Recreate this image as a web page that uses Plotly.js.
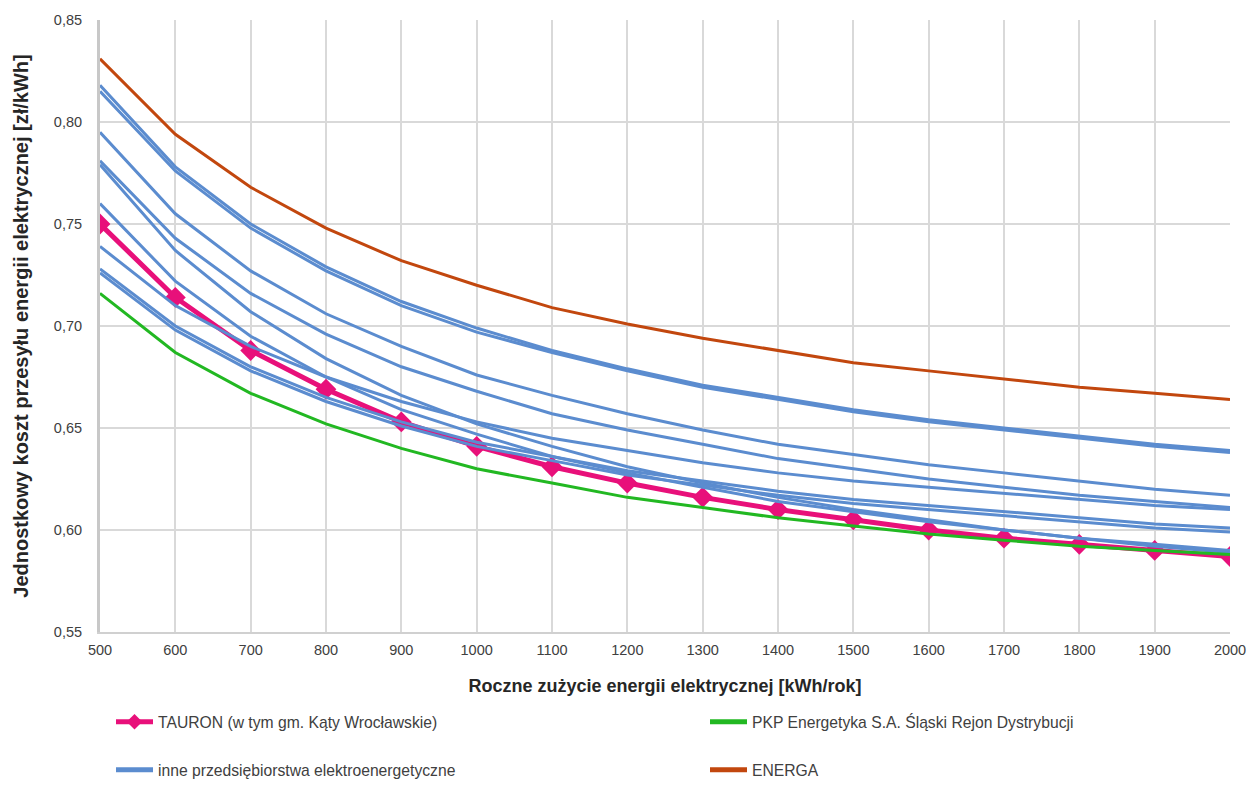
<!DOCTYPE html>
<html>
<head>
<meta charset="utf-8">
<script src="https://cdn.plot.ly/plotly-3.0.1.min.js"></script>
<style>html,body{margin:0;padding:0;background:#fff;}#chart{width:1252px;height:792px;}</style>
</head>
<body>
<div id="chart"></div>
<script>
const consumption = [500,600,700,800,900,1000,1100,1200,1300,1400,1500,1600,1700,1800,1900,2000];

const tauron = [0.750,0.714,0.688,0.669,0.653,0.641,0.631,0.623,0.616,0.610,0.605,0.600,0.596,0.593,0.590,0.587];
const pkp    = [0.716,0.687,0.667,0.652,0.640,0.630,0.623,0.616,0.611,0.606,0.602,0.598,0.595,0.592,0.590,0.588];
const energa = [0.831,0.794,0.768,0.748,0.732,0.720,0.709,0.701,0.694,0.688,0.682,0.678,0.674,0.670,0.667,0.664];

const other1 = [0.818,0.778,0.750,0.729,0.712,0.699,0.688,0.679,0.671,0.665,0.659,0.654,0.650,0.646,0.642,0.639];
const other2 = [0.815,0.776,0.748,0.727,0.710,0.697,0.687,0.678,0.670,0.664,0.658,0.653,0.649,0.645,0.641,0.638];
const other3 = [0.795,0.755,0.727,0.706,0.690,0.676,0.666,0.657,0.649,0.642,0.637,0.632,0.628,0.624,0.620,0.617];
const other4 = [0.781,0.743,0.716,0.696,0.680,0.668,0.657,0.649,0.642,0.635,0.630,0.625,0.621,0.617,0.614,0.611];
const other5 = [0.779,0.737,0.707,0.684,0.666,0.652,0.641,0.631,0.623,0.616,0.610,0.605,0.600,0.596,0.592,0.589];
const other6 = [0.760,0.722,0.695,0.675,0.659,0.647,0.636,0.628,0.621,0.614,0.609,0.604,0.600,0.596,0.593,0.590];
const other7 = [0.739,0.710,0.690,0.675,0.663,0.653,0.645,0.639,0.633,0.628,0.624,0.621,0.618,0.615,0.612,0.610];
const other8 = [0.728,0.700,0.680,0.665,0.653,0.643,0.636,0.629,0.624,0.619,0.615,0.612,0.609,0.606,0.603,0.601];
const other9 = [0.726,0.698,0.678,0.663,0.651,0.641,0.634,0.627,0.622,0.617,0.613,0.610,0.607,0.604,0.601,0.599];
const others = [other1,other2,other3,other4,other5,other6,other7,other8,other9];

const nameTauron = 'TAURON (w tym gm. Kąty Wrocławskie)';
const namePkp = 'PKP Energetyka S.A. Śląski Rejon Dystrybucji';
const nameOther = 'inne przedsiębiorstwa elektroenergetyczne';
const nameEnerga = 'ENERGA';

const xTicks = [500,600,700,800,900,1000,1100,1200,1300,1400,1500,1600,1700,1800,1900,2000];
const yTicks = [0.55,0.60,0.65,0.70,0.75,0.80,0.85];

const traces = [];
traces.push({
  x: consumption, y: tauron, type: 'scatter', mode: 'lines+markers', name: nameTauron,
  line: {color: '#E8107A', width: 5}, marker: {symbol: 'diamond', size: 16, color: '#E8107A'},
  legend: 'legend'
});
others.forEach((s, i) => {
  traces.push({
    x: consumption, y: s, type: 'scatter', mode: 'lines', name: nameOther,
    line: {color: '#5B8CCF', width: 3}, legendgroup: 'other', showlegend: i === 0,
    legend: 'legend3'
  });
});
traces.push({
  x: consumption, y: pkp, type: 'scatter', mode: 'lines', name: namePkp,
  line: {color: '#22B822', width: 3}, legend: 'legend2'
});
traces.push({
  x: consumption, y: energa, type: 'scatter', mode: 'lines', name: nameEnerga,
  line: {color: '#C2470E', width: 3}, legend: 'legend4'
});

const fontFam = '"Liberation Sans", Arial, sans-serif';
function leg(xpx, ypx) {
  return {
    orientation: 'h', xref: 'container', yref: 'container',
    x: xpx / 1252, y: 1 - ypx / 792, xanchor: 'left', yanchor: 'middle',
    itemwidth: 37, itemsizing: 'constant', font: {size: 15.7, color: '#404040', family: fontFam},
    bgcolor: 'rgba(0,0,0,0)', borderwidth: 0
  };
}
const pad = '\u00a0'.repeat(8);
const padY = '\u00a0'.repeat(4);
const layout = {
  width: 1252, height: 792,
  margin: {l: 100, r: 22, t: 20, b: 160},
  paper_bgcolor: '#ffffff', plot_bgcolor: '#ffffff',
  separators: ', ',
  font: {family: fontFam, size: 14, color: '#404040'},
  showlegend: true,
  xaxis: {
    range: [500, 2000], tickvals: xTicks, ticktext: xTicks.map(String),
    showgrid: true, gridcolor: '#d9d9d9', gridwidth: 2,
    showline: true, linecolor: '#d0d0d0', linewidth: 2, mirror: false,
    zeroline: false, ticks: '', ticklabelstandoff: 4, tickfont: {size: 14.5, color: '#404040'},
    automargin: false,
    title: {text: pad + 'Roczne zużycie energii elektrycznej [kWh/rok]', font: {size: 18, color: '#262626', family: fontFam, weight: 'bold'}, standoff: 22}
  },
  yaxis: {
    range: [0.55, 0.85], tickvals: yTicks, tickformat: '.2f',
    showgrid: true, gridcolor: '#d9d9d9', gridwidth: 2,
    showline: true, linecolor: '#c8c8c8', linewidth: 3,
    zeroline: false, ticks: '', ticklabelstandoff: 12, tickfont: {size: 14.5, color: '#404040'},
    automargin: false,
    title: {text: 'Jednostkowy koszt przesyłu energii elektrycznej [zł/kWh]' + padY, font: {size: 20, color: '#262626', family: fontFam, weight: 'bold'}, standoff: 20}
  },
  legend: leg(111, 722),
  legend2: leg(705, 722),
  legend3: leg(111, 770),
  legend4: leg(705, 770)
};

Plotly.newPlot('chart', traces, layout, {displayModeBar: false, staticPlot: true});
</script>
</body>
</html>
